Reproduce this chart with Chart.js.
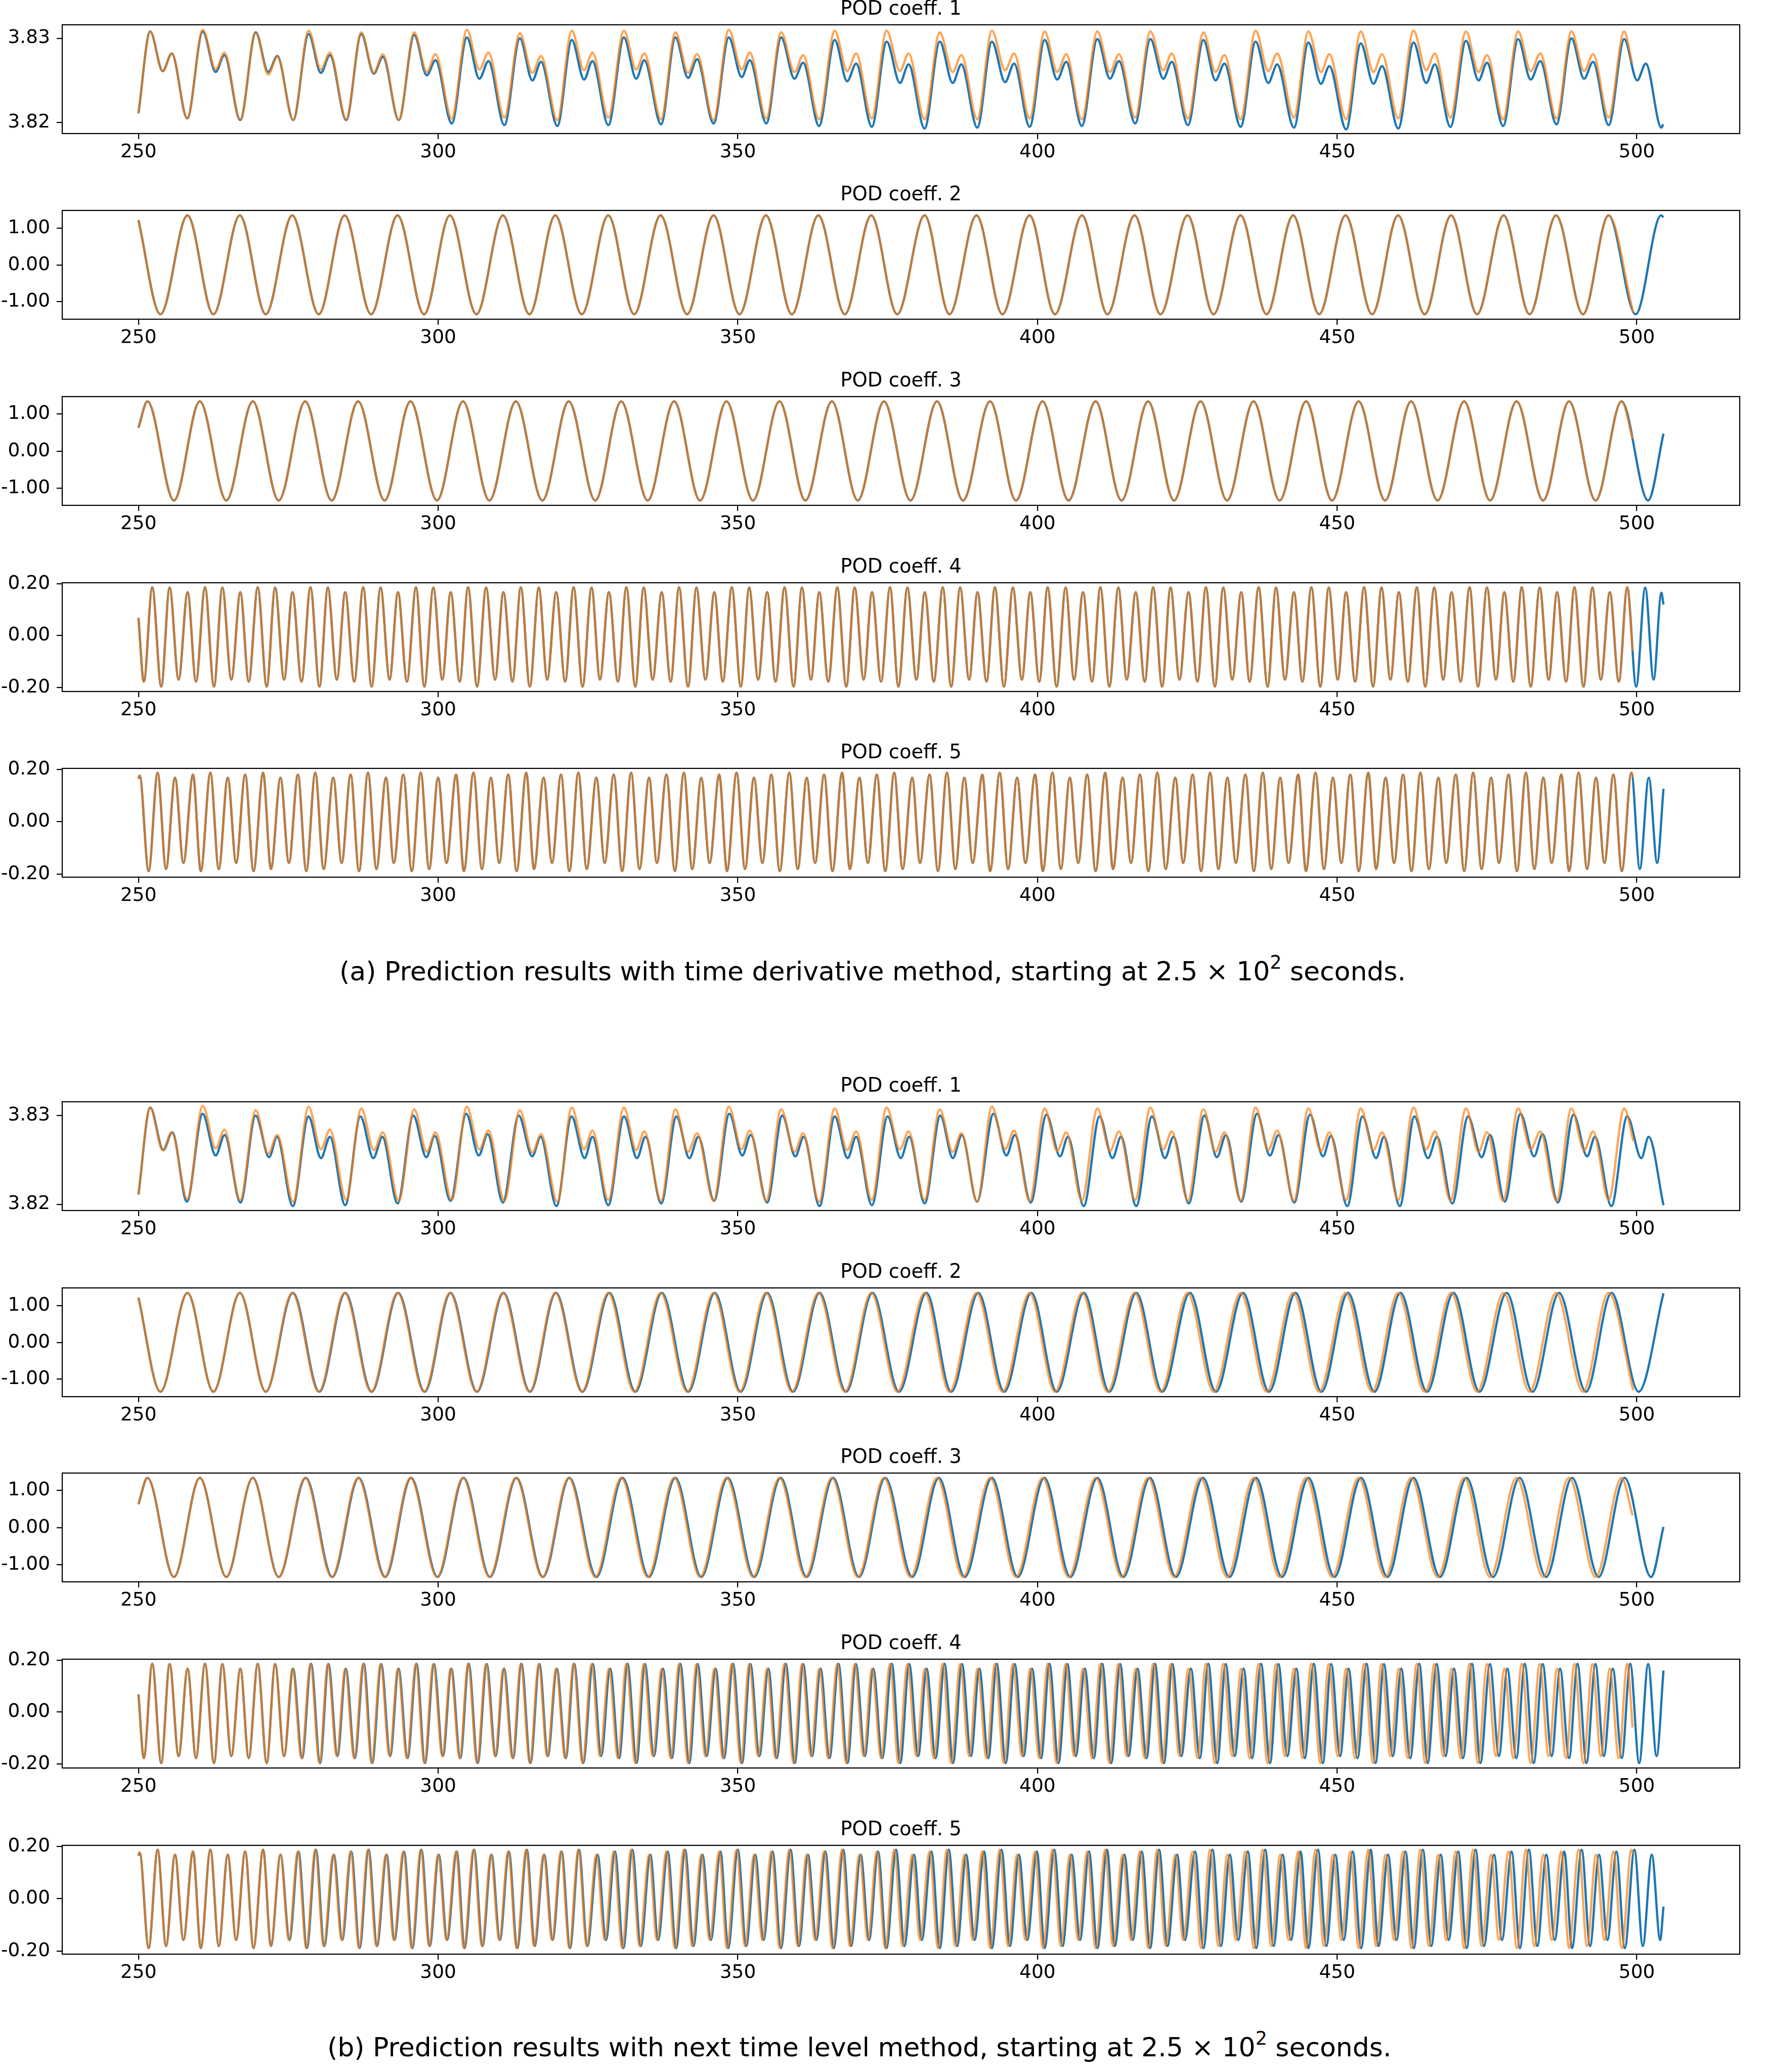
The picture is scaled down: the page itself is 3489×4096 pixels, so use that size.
<!DOCTYPE html>
<html><head><meta charset="utf-8">
<script src="https://cdn.jsdelivr.net/npm/chart.js@4.4.1/dist/chart.umd.min.js"></script>
<style>
html,body{margin:0;padding:0;background:#fff;}
body{width:3489px;height:4096px;position:relative;overflow:hidden;font-family:'DejaVu Sans',sans-serif;color:#000;}
canvas{position:absolute;left:0;}
.ttl{position:absolute;left:123px;width:3316px;text-align:center;font-size:38.5px;line-height:38.5px;white-space:nowrap;}
.cap{position:absolute;font-size:52px;line-height:52px;white-space:nowrap;}
.cap span{font-size:0.7em;position:relative;top:-0.62em;}
</style></head><body>
<div class="cap" style="left:671px;top:1894px;">(a) Prediction results with time derivative method, starting at 2.5 × 10<span>2</span> seconds.</div>
<div class="cap" style="left:647px;top:4021px;">(b) Prediction results with next time level method, starting at 2.5 × 10<span>2</span> seconds.</div>
<script>
// ---------------- tick values / labels ----------------
const xTicks = [250,300,350,400,450,500];
const xLabels = ['250','300','350','400','450','500'];
const m1Ticks = [3.82,3.83];
const m1Labels = ['3.82','3.83'];
const m23Ticks = [-1,0,1];
const m23Labels = ['-1.00','0.00','1.00'];
const m45Ticks = [-0.2,0,0.2];
const m45Labels = ['-0.20','0.00','0.20'];
const titles = ['POD coeff. 1','POD coeff. 2','POD coeff. 3','POD coeff. 4','POD coeff. 5'];

// ---------------- POD coeff. 1, part (a) ----------------
const m1aT = [250.0,
251.96,254.04,255.56,258.14, 260.73,262.88,264.33,266.98, 269.57,271.65,273.17,275.82,
278.4,280.43,281.94,284.66, 287.18,289.27,290.78,293.43, 296.02,298.1,299.56,302.27,
304.8,306.88,308.4,311.05, 313.64,315.72,317.17,319.89, 322.3,324.35,325.75,328.4,
331.0,333.05,334.4,337.2, 339.6,341.7,343.2,345.96, 348.5,350.65,352.0,354.76,
357.24,359.45,360.9,363.56, 366.17,368.25,369.75,372.36, 374.84,377.05,378.5,381.16,
383.7,385.85,387.3,389.96, 392.4,394.6,396.1,398.7, 401.2,403.3,404.8,407.4,
410.0,412.1,413.6,416.3, 418.85,421.0,422.4,425.1, 427.7,429.7,431.2,433.9,
436.4,438.5,440.0,442.8, 445.2,447.3,448.7,451.5, 453.95,456.06,457.5,460.2,
462.75,464.86,466.3,468.9, 471.5,473.6,475.0,477.7, 480.2,482.3,483.9,486.6,
489.1,491.2,492.7,495.3, 497.9,500.06,501.5,504.1, 504.4];
const m1aBlue = [3.8211,
3.8308,3.8261,3.8282,3.8205, 3.8308,3.8260,3.8280,3.8203, 3.8307,3.8260,3.8279,3.8203,
3.8305,3.8259,3.8280,3.8203, 3.8305,3.8258,3.8278,3.8203, 3.8304,3.8256,3.8274,3.8199,
3.8301,3.8252,3.8273,3.8197, 3.8300,3.8250,3.8272,3.8196, 3.8298,3.8251,3.8273,3.8197,
3.8301,3.8252,3.8274,3.8198, 3.8301,3.8253,3.8275,3.8199, 3.8301,3.8254,3.8274,3.8199,
3.8301,3.8252,3.8271,3.8196, 3.8298,3.8249,3.8270,3.8195, 3.8296,3.8247,3.8269,3.8193,
3.8296,3.8247,3.8269,3.8194, 3.8296,3.8248,3.8270,3.8195, 3.8298,3.8251,3.8272,3.8196,
3.8299,3.8252,3.8273,3.8199, 3.8299,3.8252,3.8272,3.8197, 3.8298,3.8250,3.8270,3.8195,
3.8296,3.8247,3.8269,3.8194, 3.8295,3.8246,3.8267,3.8192, 3.8294,3.8246,3.8267,3.8193,
3.8295,3.8247,3.8269,3.8195, 3.8297,3.8250,3.8271,3.8196, 3.8299,3.8251,3.8273,3.8198,
3.8300,3.8252,3.8272,3.8197, 3.8299,3.8250,3.8270,3.8194, 3.8198];
const m1aOrange = [3.8211,
3.8308,3.8261,3.8282,3.8205, 3.8310,3.8263,3.8283,3.8204, 3.8306,3.8257,3.8278,3.8203,
3.8309,3.8263,3.8283,3.8204, 3.8307,3.8259,3.8281,3.8203, 3.8307,3.8260,3.8281,3.8205,
3.8310,3.8263,3.8283,3.8206, 3.8306,3.8259,3.8279,3.8203, 3.8309,3.8262,3.8283,3.8206,
3.8309,3.8263,3.8282,3.8204, 3.8307,3.8259,3.8281,3.8203, 3.8310,3.8263,3.8283,3.8205,
3.8307,3.8260,3.8280,3.8204, 3.8309,3.8261,3.8282,3.8205, 3.8309,3.8261,3.8282,3.8204,
3.8307,3.8260,3.8280,3.8204, 3.8309,3.8262,3.8282,3.8205, 3.8308,3.8260,3.8281,3.8204,
3.8308,3.8260,3.8281,3.8206, 3.8308,3.8262,3.8282,3.8205, 3.8307,3.8260,3.8280,3.8204,
3.8309,3.8261,3.8282,3.8206, 3.8308,3.8260,3.8281,3.8204, 3.8308,3.8260,3.8281,3.8205,
3.8309,3.8262,3.8282,3.8206, 3.8308,3.8260,3.8280,3.8204, 3.8308,3.8261,3.8282,3.8205,
3.8308,3.8261,3.8281,3.8206, 3.8308];
const m1aOrangeEnd = [499.2, 3.8271];

// ---------------- POD coeff. 1, part (b) ----------------
const m1bT = [250.0,
251.97,254.14,255.64,258.08, 260.71,262.88,264.38,267.01, 269.55,271.8,273.12,275.75,
278.38,280.45,281.95,284.49, 287.03,289.19,290.7,293.23, 295.86,298.03,299.44,302.07,
304.7,306.77,308.27,310.81, 313.44,315.7,317.11,319.74, 322.27,324.44,325.75,328.38,
331.02,333.18,334.59,337.22, 339.76,341.92,343.42,346.05, 348.59,350.75,352.16,354.89,
357.43,359.59,361.0,363.63, 366.17,368.33,369.74,372.37, 375.0,377.2,378.6,381.17,
383.8,385.88,387.38,389.92, 392.66,394.82,396.23,398.87, 401.5,403.77,405.08,407.72,
410.36,412.52,413.94,416.48, 419.11,421.28,422.69,425.24, 427.87,429.94,431.45,433.99,
436.63,438.79,440.21,442.84, 445.48,447.65,448.96,451.69, 454.24,456.5,457.82,460.45,
462.9,465.16,466.67,469.21, 471.85,474.11,475.52,477.97, 480.6,482.86,484.27,486.82,
489.45,491.71,493.03,495.76, 498.4,500.75,501.98, 504.45];
const m1bBlue = [3.8211,
3.8309,3.8261,3.8281,3.8203, 3.8302,3.8255,3.8278,3.8202, 3.8300,3.8253,3.8276,3.8198,
3.8299,3.8252,3.8276,3.8199, 3.8299,3.8252,3.8276,3.8201, 3.8300,3.8253,3.8277,3.8204,
3.8302,3.8255,3.8279,3.8202, 3.8300,3.8254,3.8276,3.8198, 3.8299,3.8252,3.8276,3.8199,
3.8299,3.8252,3.8276,3.8201, 3.8299,3.8252,3.8276,3.8204, 3.8302,3.8255,3.8278,3.8202,
3.8300,3.8254,3.8276,3.8198, 3.8299,3.8252,3.8276,3.8199, 3.8299,3.8252,3.8276,3.8201,
3.8300,3.8252,3.8278,3.8203, 3.8302,3.8255,3.8278,3.8202, 3.8301,3.8254,3.8276,3.8198,
3.8299,3.8252,3.8276,3.8198, 3.8299,3.8252,3.8276,3.8201, 3.8300,3.8253,3.8278,3.8203,
3.8302,3.8255,3.8278,3.8202, 3.8301,3.8254,3.8277,3.8198, 3.8299,3.8252,3.8276,3.8198,
3.8299,3.8252,3.8276,3.8201, 3.8299,3.8253,3.8278,3.8203, 3.8302,3.8254,3.8279,3.8202,
3.8301,3.8254,3.8276,3.8198, 3.8299,3.8252,3.8276, 3.8199];
const m1bOrange = [3.8211,
3.8309,3.8261,3.8281,3.8206, 3.8311,3.8263,3.8284,3.8205, 3.8306,3.8257,3.8278,3.8203,
3.8310,3.8262,3.8284,3.8205, 3.8308,3.8261,3.8281,3.8204, 3.8307,3.8259,3.8281,3.8205,
3.8310,3.8262,3.8283,3.8204, 3.8306,3.8258,3.8279,3.8203, 3.8309,3.8262,3.8283,3.8205,
3.8309,3.8261,3.8282,3.8204, 3.8307,3.8259,3.8280,3.8204, 3.8310,3.8262,3.8283,3.8204,
3.8307,3.8259,3.8280,3.8203, 3.8308,3.8261,3.8282,3.8205, 3.8309,3.8262,3.8282,3.8205,
3.8307,3.8259,3.8280,3.8203, 3.8310,3.8262,3.8283,3.8204, 3.8308,3.8260,3.8281,3.8204,
3.8308,3.8260,3.8282,3.8205, 3.8309,3.8262,3.8282,3.8204, 3.8307,3.8259,3.8281,3.8204,
3.8309,3.8261,3.8283,3.8204, 3.8308,3.8260,3.8281,3.8205, 3.8308,3.8261,3.8281,3.8205,
3.8309,3.8262,3.8282,3.8204, 3.8308,3.8259,3.8281,3.8204, 3.8308,3.8262,3.8282,3.8204,
3.8308,3.8261,3.8282,3.8205, 3.8308];
const m1bOrangeEnd = [499.44, 3.8271];

// ---------------- POD coeff. 2 ----------------
const m2T = [250.0,
253.67,258.18, 262.5,266.92, 271.24,275.66, 280.08,284.4, 288.82,293.23, 297.65,301.97,
306.39,310.81, 315.23,319.55, 323.97,328.38, 332.71,337.12, 341.54,345.96, 350.28,354.7,
359.02,363.44, 367.86,372.27, 376.6,381.17, 385.31,389.83, 394.16,398.68, 402.92,407.44,
411.68,416.2, 420.53,425.05, 429.38,433.9, 438.23,442.66, 446.99,451.41, 455.84,460.17,
464.6,469.02, 473.35,477.78, 482.11,486.53, 491.02,495.29, 499.81,504.05];
const m2bT = [250.0,
253.67,258.18, 262.5,266.92, 271.24,275.76, 280.18,284.5, 288.92,293.33, 297.75,302.07,
306.49,310.91, 315.33,319.65, 324.07,328.58, 332.91,337.32, 341.74,346.16, 350.48,354.9,
359.22,363.64, 368.06,372.47, 376.9,381.47, 385.61,390.13, 394.46,398.98, 403.22,407.74,
411.98,416.5, 420.83,425.45, 429.78,434.3, 438.63,443.06, 447.39,451.81, 456.24,460.57,
465.0,469.42, 473.75,478.28, 482.61,487.03, 491.52,495.79, 500.31];
const m2V = [1.22,
-1.34,1.35, -1.34,1.35, -1.34,1.35, -1.34,1.35, -1.34,1.35, -1.34,1.35,
-1.34,1.35, -1.34,1.35, -1.34,1.35, -1.34,1.35, -1.34,1.35, -1.34,1.35,
-1.34,1.35, -1.34,1.35, -1.34,1.35, -1.34,1.35, -1.34,1.35, -1.34,1.35,
-1.34,1.35, -1.34,1.35, -1.34,1.35, -1.34,1.35, -1.34,1.35, -1.34,1.35,
-1.34,1.35, -1.34,1.35, -1.34,1.35, -1.34,1.35, -1.34,1.35];
const m2EndA = [504.45, 1.30];
const m2EndB = [504.45, 1.34];
const m2OrangeEnd = [499.4, -1.30];

// ---------------- POD coeff. 3 ----------------
const m3T = [250.0,
251.5,255.92, 260.24,264.66, 269.08,273.4, 277.82,282.24, 286.65,291.07, 295.39,299.81,
304.14,308.55, 312.97,317.39, 321.8,326.22, 330.55,334.96, 339.38,343.7, 348.12,352.54,
356.95,361.28, 365.7,370.02, 374.39,378.81, 383.24,387.57, 392.09,396.42, 400.85,405.18,
409.7,414.03, 418.46,422.79, 427.21,431.64, 436.06,440.4, 444.82,449.15, 453.58,458.0,
462.34,466.76, 471.19,475.52, 479.94,484.37, 488.7,493.13, 497.46,501.88];
const m3bT = [250.0,
251.5,255.92, 260.24,264.66, 269.08,273.4, 277.92,282.34, 286.75,291.17, 295.49,299.91,
304.24,308.65, 313.07,317.49, 321.9,326.42, 330.75,335.16, 339.58,343.9, 348.32,352.74,
357.15,361.48, 365.9,370.22, 374.59,379.11, 383.54,387.87, 392.39,396.72, 401.15,405.48,
410.0,414.33, 418.76,423.09, 427.61,432.04, 436.46,440.8, 445.22,449.55, 453.98,458.4,
462.74,467.16, 471.59,476.02, 480.44,484.87, 489.2,493.63, 497.96,502.38];
const m3V = [0.63,
1.34,-1.33, 1.34,-1.33, 1.34,-1.33, 1.34,-1.33, 1.34,-1.33, 1.34,-1.33,
1.34,-1.33, 1.34,-1.33, 1.34,-1.33, 1.34,-1.33, 1.34,-1.33, 1.34,-1.33,
1.34,-1.33, 1.34,-1.33, 1.34,-1.33, 1.34,-1.33, 1.34,-1.33, 1.34,-1.33,
1.34,-1.33, 1.34,-1.33, 1.34,-1.33, 1.34,-1.33, 1.34,-1.33, 1.34,-1.33,
1.34,-1.33, 1.34,-1.33, 1.34,-1.33, 1.34,-1.33, 1.34,-1.33];
const m3EndA = [504.45, 0.47];
const m3EndB = [504.45, 0.02];
const m3OrangeEnd = [499.3, 0.33];

// ---------------- POD coeff. 4 ----------------
const m4StartT = [250.0];
const m4StartV = [0.068];
const m4PeakAT = [252.3,255.2,258.2,261.1,264.0,267.0,269.9,272.8,275.7,278.7,
281.6,284.5,287.5,290.4,293.3,296.3,299.2,302.1,305.0,308.0,
310.9,313.8,316.8,319.7,322.6,325.6,328.5,331.4,334.3,337.3,
340.2,343.1,346.1,349.0,351.9,354.9,357.8,360.7,363.6,366.6,
369.5,372.4,375.4,378.3,381.2,384.2,387.1,390.0,392.9,395.9,
398.8,401.7,404.7,407.6,410.5,413.5,416.4,419.3,422.2,425.2,
428.1,431.0,434.0,436.9,439.8,442.8,445.7,448.6,451.5,454.5,
457.4,460.3,463.3,466.2,469.1,472.1,475.0,477.9,480.8,483.8,
486.7,489.6,492.6,495.5,498.4,501.4];
const m4PeakBT = [252.3,255.2,258.2,261.1,264.0,267.0,269.9,272.8,275.8,278.8,
281.7,284.6,287.6,290.5,293.4,296.4,299.3,302.2,305.1,308.1,
311.0,313.9,316.9,319.8,322.7,325.8,328.7,331.6,334.5,337.5,
340.4,343.3,346.3,349.2,352.1,355.1,358.0,360.9,363.8,366.8,
369.7,372.6,375.7,378.6,381.5,384.5,387.4,390.3,393.2,396.2,
399.1,402.0,405.0,407.9,410.8,413.8,416.7,419.6,422.5,425.6,
428.5,431.4,434.4,437.3,440.2,443.2,446.1,449.0,451.9,454.9,
457.8,460.7,463.7,466.6,469.5,472.5,475.5,478.4,481.3,484.3,
487.2,490.1,493.1,496.0,498.9,501.9];
const m4PeakV = [0.186,0.185,0.167, 0.186,0.185,0.167, 0.186,0.185,0.167, 0.186,0.185,0.167,
0.186,0.185,0.167, 0.186,0.185,0.167, 0.186,0.185,0.167, 0.186,0.185,0.167,
0.186,0.185,0.167, 0.186,0.185,0.167, 0.186,0.185,0.167, 0.186,0.185,0.167,
0.186,0.185,0.167, 0.186,0.185,0.167, 0.186,0.185,0.167, 0.186,0.185,0.167,
0.186,0.185,0.167, 0.186,0.185,0.167, 0.186,0.185,0.167, 0.186,0.185,0.167,
0.186,0.185,0.167, 0.186,0.185,0.167, 0.186,0.185,0.167, 0.186,0.185,0.167,
0.186,0.185,0.167, 0.186,0.185,0.167, 0.186,0.185,0.167, 0.186,0.185,0.167,
0.186,0.185];
const m4TroughAT = [250.9,253.8,256.7,259.6,262.6,265.5,268.4,271.4,274.3,277.2,
280.2,283.1,286.0,288.9,291.9,294.8,297.7,300.7,303.6,306.5,
309.5,312.4,315.3,318.2,321.2,324.1,327.0,330.0,332.9,335.8,
338.8,341.7,344.6,347.5,350.5,353.4,356.3,359.3,362.2,365.1,
368.1,371.0,373.9,376.8,379.8,382.7,385.6,388.6,391.5,394.4,
397.4,400.3,403.2,406.1,409.1,412.0,414.9,417.9,420.8,423.7,
426.7,429.6,432.5,435.4,438.4,441.3,444.2,447.2,450.1,453.0,
456.0,458.9,461.8,464.7,467.7,470.6,473.5,476.5,479.4,482.3,
485.3,488.2,491.1,494.0,497.0,499.9,502.8];
const m4TroughBT = [250.9,253.8,256.7,259.6,262.6,265.5,268.4,271.4,274.3,277.3,
280.3,283.2,286.1,289.0,292.0,294.9,297.8,300.8,303.7,306.6,
309.6,312.5,315.4,318.3,321.3,324.2,327.2,330.2,333.1,336.0,
339.0,341.9,344.8,347.7,350.7,353.6,356.5,359.5,362.4,365.3,
368.3,371.2,374.1,377.1,380.1,383.0,385.9,388.9,391.8,394.7,
397.7,400.6,403.5,406.4,409.4,412.3,415.2,418.2,421.1,424.0,
427.1,430.0,432.9,435.8,438.8,441.7,444.6,447.6,450.5,453.4,
456.4,459.3,462.2,465.1,468.1,471.0,473.9,477.0,479.9,482.8,
485.8,488.7,491.6,494.5,497.5,500.4,503.3];
const m4TroughV = [-0.178,-0.197,-0.17, -0.178,-0.197,-0.17, -0.178,-0.197,-0.17, -0.178,-0.197,-0.17,
-0.178,-0.197,-0.17, -0.178,-0.197,-0.17, -0.178,-0.197,-0.17, -0.178,-0.197,-0.17,
-0.178,-0.197,-0.17, -0.178,-0.197,-0.17, -0.178,-0.197,-0.17, -0.178,-0.197,-0.17,
-0.178,-0.197,-0.17, -0.178,-0.197,-0.17, -0.178,-0.197,-0.17, -0.178,-0.197,-0.17,
-0.178,-0.197,-0.17, -0.178,-0.197,-0.17, -0.178,-0.197,-0.17, -0.178,-0.197,-0.17,
-0.178,-0.197,-0.17, -0.178,-0.197,-0.17, -0.178,-0.197,-0.17, -0.178,-0.197,-0.17,
-0.178,-0.197,-0.17, -0.178,-0.197,-0.17, -0.178,-0.197,-0.17, -0.178,-0.197,-0.17,
-0.178,-0.197,-0.17];
const m4TailAT = [504.1, 504.45];
const m4TailAV = [0.165, 0.12];
const m4EndB = [504.45, 0.16];
const m4OrangeEnd = [499.3, -0.06];

// ---------------- POD coeff. 5 ----------------
const m5StartT = [250.0, 250.2];
const m5StartV = [0.164, 0.176];
const m5PeakAT = [253.2,256.1,259.1,262.0,264.9,267.8,270.8,273.7,276.6,279.5,
282.5,285.4,288.3,291.3,294.2,297.1,300.0,303.0,305.9,308.8,
311.7,314.7,317.6,320.5,323.4,326.4,329.3,332.2,335.2,338.1,
341.0,343.9,346.9,349.8,352.7,355.6,358.6,361.5,364.4,367.4,
370.3,373.2,376.1,379.1,382.0,384.9,387.8,390.8,393.7,396.6,
399.6,402.5,405.4,408.3,411.3,414.2,417.1,420.0,423.0,425.9,
428.8,431.7,434.7,437.6,440.5,443.5,446.4,449.3,452.2,455.2,
458.1,461.0,463.9,466.9,469.8,472.7,475.7,478.6,481.5,484.4,
487.4,490.3,493.2,496.1,499.1,502.0];
const m5PeakBT = [253.2,256.1,259.1,262.0,264.9,267.8,270.8,273.7,276.7,279.6,
282.6,285.5,288.4,291.4,294.3,297.2,300.1,303.1,306.0,308.9,
311.8,314.8,317.7,320.6,323.5,326.6,329.5,332.4,335.4,338.3,
341.2,344.1,347.1,350.0,352.9,355.8,358.8,361.7,364.6,367.6,
370.5,373.4,376.4,379.4,382.3,385.2,388.1,391.1,394.0,396.9,
399.9,402.8,405.7,408.6,411.6,414.5,417.4,420.3,423.3,426.3,
429.2,432.1,435.1,438.0,440.9,443.9,446.8,449.7,452.6,455.6,
458.5,461.4,464.3,467.3,470.2,473.1,476.2,479.1,482.0,484.9,
487.9,490.8,493.7,496.6,499.6,502.5];
const m5PeakV = [0.187,0.168,0.18, 0.187,0.168,0.18, 0.187,0.168,0.18, 0.187,0.168,0.18,
0.187,0.168,0.18, 0.187,0.168,0.18, 0.187,0.168,0.18, 0.187,0.168,0.18,
0.187,0.168,0.18, 0.187,0.168,0.18, 0.187,0.168,0.18, 0.187,0.168,0.18,
0.187,0.168,0.18, 0.187,0.168,0.18, 0.187,0.168,0.18, 0.187,0.168,0.18,
0.187,0.168,0.18, 0.187,0.168,0.18, 0.187,0.168,0.18, 0.187,0.168,0.18,
0.187,0.168,0.18, 0.187,0.168,0.18, 0.187,0.168,0.18, 0.187,0.168,0.18,
0.187,0.168,0.18, 0.187,0.168,0.18, 0.187,0.168,0.18, 0.187,0.168,0.18,
0.187,0.168];
const m5TroughAT = [251.7,254.6,257.5,260.4,263.4,266.3,269.2,272.1,275.1,278.0,
280.9,283.9,286.8,289.7,292.6,295.6,298.5,301.4,304.3,307.3,
310.2,313.1,316.0,319.0,321.9,324.8,327.8,330.7,333.6,336.5,
339.5,342.4,345.3,348.2,351.2,354.1,357.0,360.0,362.9,365.8,
368.7,371.7,374.6,377.5,380.4,383.4,386.3,389.2,392.1,395.1,
398.0,400.9,403.9,406.8,409.7,412.6,415.6,418.5,421.4,424.3,
427.3,430.2,433.1,436.1,439.0,441.9,444.8,447.8,450.7,453.6,
456.5,459.5,462.4,465.3,468.2,471.2,474.1,477.0,480.0,482.9,
485.8,488.7,491.7,494.6,497.5,500.5,503.4];
const m5TroughBT = [251.7,254.6,257.5,260.4,263.4,266.3,269.2,272.1,275.2,278.1,
281.0,284.0,286.9,289.8,292.7,295.7,298.6,301.5,304.4,307.4,
310.3,313.2,316.1,319.1,322.0,324.9,328.0,330.9,333.8,336.7,
339.7,342.6,345.5,348.4,351.4,354.3,357.2,360.2,363.1,366.0,
368.9,371.9,374.8,377.8,380.7,383.7,386.6,389.5,392.4,395.4,
398.3,401.2,404.2,407.1,410.0,412.9,415.9,418.8,421.7,424.6,
427.7,430.6,433.5,436.5,439.4,442.3,445.2,448.2,451.1,454.0,
456.9,459.9,462.8,465.7,468.6,471.6,474.5,477.5,480.5,483.4,
486.3,489.2,492.2,495.1,498.0,501.0,503.9];
const m5TroughV = [-0.188,-0.18,-0.157, -0.188,-0.18,-0.157, -0.188,-0.18,-0.157, -0.188,-0.18,-0.157,
-0.188,-0.18,-0.157, -0.188,-0.18,-0.157, -0.188,-0.18,-0.157, -0.188,-0.18,-0.157,
-0.188,-0.18,-0.157, -0.188,-0.18,-0.157, -0.188,-0.18,-0.157, -0.188,-0.18,-0.157,
-0.188,-0.18,-0.157, -0.188,-0.18,-0.157, -0.188,-0.18,-0.157, -0.188,-0.18,-0.157,
-0.188,-0.18,-0.157, -0.188,-0.18,-0.157, -0.188,-0.18,-0.157, -0.188,-0.18,-0.157,
-0.188,-0.18,-0.157, -0.188,-0.18,-0.157, -0.188,-0.18,-0.157, -0.188,-0.18,-0.157,
-0.188,-0.18,-0.157, -0.188,-0.18,-0.157, -0.188,-0.18,-0.157, -0.188,-0.18,-0.157,
-0.188,-0.18,-0.157];
const m5EndA = [504.45, 0.126];
const m5EndB = [504.45, -0.03];
const m5OrangeEnd = [499.35, 0.17];

// ---------------- layout (pixels) ----------------
const W = 3489, PLOT_LEFT = 123, PLOT_RIGHT = 3439, PLOT_H = 215, PAD_TOP = 40, XAXIS_H = 80;
const plotTops = [49, 416, 784, 1152, 1519, 2178, 2546, 2912, 3280, 3648];
const X_MIN = 237.28, X_MAX = 517.17;
const BLUE = '#1f77b4', ORANGE = 'rgba(255,127,14,0.7)';

// ---------------- helpers ----------------
function pts(pairs){
  const out = [];
  for (const [ts, vs] of pairs){
    const n = Math.min(ts.length, vs.length);
    for (let i = 0; i < n; i++) out.push({x: ts[i], y: vs[i]});
  }
  out.sort((a, b) => a.x - b.x);
  return out;
}
function withEnd(points, end){ return points.filter(p => p.x < end[0]).concat([{x: end[0], y: end[1]}]); }

Chart.defaults.font.family = "'DejaVu Sans', sans-serif";
Chart.defaults.color = '#000';

const frame = {id: 'frame', afterDatasetsDraw(chart){
  const {ctx, chartArea: a} = chart;
  ctx.save(); ctx.strokeStyle = '#000'; ctx.lineWidth = 2.2;
  ctx.strokeRect(a.left, a.top, a.right - a.left, a.bottom - a.top);
  ctx.restore();
}};

function makeChart(idx, title, blue, orange, yMin, yMax, yT, yL){
  const top = plotTops[idx];
  const c = document.createElement('canvas');
  c.width = W; c.height = PAD_TOP + PLOT_H + XAXIS_H;
  c.style.width = W + 'px'; c.style.height = c.height + 'px';
  c.style.top = (top - PAD_TOP) + 'px';
  document.body.appendChild(c);
  const t = document.createElement('div');
  t.className = 'ttl'; t.textContent = title; t.style.top = (top - 52) + 'px';
  document.body.appendChild(t);
  const grid = {drawOnChartArea: false, drawTicks: true, tickLength: 11, tickWidth: 2.2, tickColor: '#000', color: '#000', lineWidth: 2.2};
  const ch = new Chart(c, {
    type: 'line',
    data: {datasets: [
      {data: blue, borderColor: BLUE, order: 2},
      {data: orange, borderColor: ORANGE, order: 1}
    ]},
    options: {
      responsive: false, animation: false, devicePixelRatio: 1, parsing: false, normalized: true,
      layout: {padding: {top: PAD_TOP, right: W - PLOT_RIGHT, left: 0, bottom: 0}},
      plugins: {legend: {display: false}, tooltip: {enabled: false}, title: {display: false}},
      elements: {point: {radius: 0}, line: {borderWidth: 4.5, tension: 0.4, cubicInterpolationMode: 'monotone', borderJoinStyle: 'round', fill: false}},
      scales: {
        x: {type: 'linear', min: X_MIN, max: X_MAX,
          afterFit: s => { s.height = XAXIS_H; s.paddingLeft = 0; s.paddingRight = 0; },
          afterBuildTicks: s => { s.ticks = xTicks.map(v => ({value: v})); },
          ticks: {autoSkip: false, maxRotation: 0, padding: 4, font: {size: 37.5}, color: '#000', callback: (v, i) => xLabels[i]},
          grid: grid, border: {display: false}},
        y: {type: 'linear', min: yMin, max: yMax,
          afterFit: s => { s.width = PLOT_LEFT; s.paddingTop = 0; s.paddingBottom = 0; },
          afterBuildTicks: s => { s.ticks = yT.map(v => ({value: v})); },
          ticks: {autoSkip: false, padding: 13, font: {size: 37.5}, color: '#000', callback: (v, i) => yL[i]},
          grid: grid, border: {display: false}}
      }
    },
    plugins: [frame]
  });
  // keep the plotting box where it belongs even if the layout reserved extra room
  const dy = ch.chartArea.top - PAD_TOP;
  if (Math.abs(dy) > 0.5) c.style.top = (top - PAD_TOP - dy) + 'px';
}

// ---------------- series ----------------
const b1a = pts([[m1aT, m1aBlue]]);
const o1a = withEnd(pts([[m1aT, m1aOrange]]), m1aOrangeEnd);
const b1b = pts([[m1bT, m1bBlue]]);
const o1b = withEnd(pts([[m1aT, m1bOrange]]), m1bOrangeEnd);

const b2a = pts([[m2T, m2V], [[m2EndA[0]], [m2EndA[1]]]]);
const b2b = pts([[m2bT, m2V], [[m2EndB[0]], [m2EndB[1]]]]);
const o2 = withEnd(pts([[m2T, m2V]]), m2OrangeEnd);

const b3a = pts([[m3T, m3V], [[m3EndA[0]], [m3EndA[1]]]]);
const b3b = pts([[m3bT, m3V], [[m3EndB[0]], [m3EndB[1]]]]);
const o3 = withEnd(pts([[m3T, m3V]]), m3OrangeEnd);

const b4a = pts([[m4StartT, m4StartV], [m4PeakAT, m4PeakV], [m4TroughAT, m4TroughV], [m4TailAT, m4TailAV]]);
const b4b = pts([[m4StartT, m4StartV], [m4PeakBT, m4PeakV], [m4TroughBT, m4TroughV], [[m4EndB[0]], [m4EndB[1]]]]);
const o4 = withEnd(pts([[m4StartT, m4StartV], [m4PeakAT, m4PeakV], [m4TroughAT, m4TroughV]]), m4OrangeEnd);

const b5a = pts([[m5StartT, m5StartV], [m5PeakAT, m5PeakV], [m5TroughAT, m5TroughV], [[m5EndA[0]], [m5EndA[1]]]]);
const b5b = pts([[m5StartT, m5StartV], [m5PeakBT, m5PeakV], [m5TroughBT, m5TroughV], [[m5EndB[0]], [m5EndB[1]]]]);
const o5 = withEnd(pts([[m5StartT, m5StartV], [m5PeakAT, m5PeakV], [m5TroughAT, m5TroughV]]), m5OrangeEnd);

makeChart(0, titles[0], b1a, o1a, 3.8187, 3.8316, m1Ticks, m1Labels);
makeChart(1, titles[1], b2a, o2, -1.475, 1.485, m23Ticks, m23Labels);
makeChart(2, titles[2], b3a, o3, -1.46, 1.47, m23Ticks, m23Labels);
makeChart(3, titles[3], b4a, o4, -0.216, 0.2036, m45Ticks, m45Labels);
makeChart(4, titles[4], b5a, o5, -0.211, 0.2035, m45Ticks, m45Labels);
makeChart(5, titles[0], b1b, o1b, 3.8193, 3.83155, m1Ticks, m1Labels);
makeChart(6, titles[1], b2b, o2, -1.475, 1.485, m23Ticks, m23Labels);
makeChart(7, titles[2], b3b, o3, -1.46, 1.47, m23Ticks, m23Labels);
makeChart(8, titles[3], b4b, o4, -0.216, 0.2036, m45Ticks, m45Labels);
makeChart(9, titles[4], b5b, o5, -0.211, 0.2035, m45Ticks, m45Labels);
</script>
</body></html>
